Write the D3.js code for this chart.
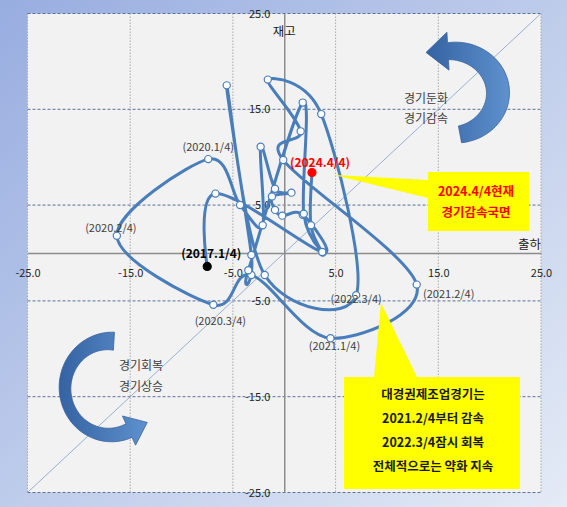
<html>
<script src='https://d3js.org/d3.v7.min.js'></script>
<style>
body { margin: 0; }
text { font-family: "Noto Sans CJK KR", "Noto Sans", sans-serif; }
</style>
<body>
<svg width="567" height="507" class="chart"></svg>
<script>
// quarters, shipment growth (x) and inventory growth (y)
var quarters = ["2017.1/4","2017.2/4","2017.3/4","2017.4/4",
                "2018.1/4","2018.2/4","2018.3/4","2018.4/4",
                "2019.1/4","2019.2/4","2019.3/4","2019.4/4",
                "2020.1/4","2020.2/4","2020.3/4","2020.4/4",
                "2021.1/4","2021.2/4","2021.3/4","2021.4/4",
                "2022.1/4","2022.2/4","2022.3/4","2022.4/4",
                "2023.1/4","2023.2/4","2023.3/4","2023.4/4",
                "2024.1/4","2024.2/4","2024.3/4","2024.4/4"];
var shipment = [-7.5,-6.7,3.75,1.8, -0.2,-0.9,-1.2,0.7, -0.9,-2.3,-2.1,-4.3,
                -7.4,-16.3,-6.9,-3.2, 4.5,12.9,-0.1,1.6, -1.6,3.6,7.0,-1.9,
                -5.6,-3.2,-3.5,1.8, 1.9,3.7,2.6,2.7];
var inventory = [-1.4,6.2,0.05,4.0, 3.9,4.5,5.9,6.3, 6.7,11.1,2.9,5.0,
                 9.8,1.8,-5.4,-2.3, -8.9,-3.3,9.7,12.7, 18.1,14.5,-4.4,-2.3,
                 17.5,-0.2,-1.8,15.7, 4.1,0.1,2.9,8.4];
var tickValues = [-25,-15,-5,5,15,25];
var labelled = ["2017.1/4","2020.1/4","2020.2/4","2020.3/4","2021.1/4","2021.2/4","2022.3/4","2024.4/4"];
var xTitle = "출하", yTitle = "재고";

// label placement (offset from the point) and look
var labelStyle = {
  "2017.1/4": {dx: 4, dy: -13, color: "#000", weight: "bold", size: 12},
  "2020.1/4": {dx: 0, dy: -12, color: "#404040", weight: "normal", size: 11},
  "2020.2/4": {dx: -6, dy: -8, color: "#404040", weight: "normal", size: 11},
  "2020.3/4": {dx: 7, dy: 16, color: "#404040", weight: "normal", size: 11},
  "2021.1/4": {dx: 4, dy: 8, color: "#404040", weight: "normal", size: 11},
  "2021.2/4": {dx: 32, dy: 10, color: "#404040", weight: "normal", size: 11},
  "2022.3/4": {dx: 0, dy: 4, color: "#404040", weight: "normal", size: 11},
  "2024.4/4": {dx: 8, dy: -10, color: "#ff0000", weight: "bold", size: 12}
};

var svg = d3.select(".chart");
var defs = svg.append("defs");

var bg = defs.append("linearGradient").attr("id", "bg")
  .attr("x1", 0).attr("y1", 0).attr("x2", 1).attr("y2", 1);
bg.append("stop").attr("offset", "0%").attr("stop-color", "#98ade0");
bg.append("stop").attr("offset", "100%").attr("stop-color", "#e4ebf6");

var ag = defs.append("linearGradient").attr("id", "arrowfill")
  .attr("x1", 0).attr("y1", 0).attr("x2", 1).attr("y2", 0);
ag.append("stop").attr("offset", "0%").attr("stop-color", "#3462a2");
ag.append("stop").attr("offset", "100%").attr("stop-color", "#5f91ce");

svg.append("rect").attr("width", 567).attr("height", 507).attr("fill", "url(#bg)");

var x = d3.scaleLinear().domain([-25, 25]).range([27.5, 541]);
var y = d3.scaleLinear().domain([-25, 25]).range([492.5, 13.5]);

svg.append("rect")
  .attr("x", x(-25)).attr("y", y(25))
  .attr("width", x(25) - x(-25)).attr("height", y(-25) - y(25))
  .attr("fill", "#f2f2f2");

// grid
svg.append("g").selectAll("line").data(tickValues).enter().append("line")
  .attr("x1", function(d) { return x(d); }).attr("x2", function(d) { return x(d); })
  .attr("y1", y(25)).attr("y2", y(-25))
  .attr("stroke", "#a9a9a9").attr("stroke-dasharray", "1.5,1.5");
svg.append("g").selectAll("line").data(tickValues).enter().append("line")
  .attr("y1", function(d) { return y(d); }).attr("y2", function(d) { return y(d); })
  .attr("x1", x(-25)).attr("x2", x(25))
  .attr("stroke", "#5d7196").attr("stroke-dasharray", "3,2");

// diagonal
svg.append("line")
  .attr("x1", x(-25)).attr("y1", y(-25)).attr("x2", x(25)).attr("y2", y(25))
  .attr("stroke", "#98afd4").attr("stroke-width", 1);

// axes crossing at zero
var fmt = function(d) { return d.toFixed(1); };
var xAxis = svg.append("g")
  .attr("transform", "translate(0," + y(0) + ")")
  .call(d3.axisBottom(x).tickValues(tickValues).tickFormat(fmt).tickSize(0).tickPadding(16));
var yAxis = svg.append("g")
  .attr("transform", "translate(" + x(0) + ",0)")
  .call(d3.axisLeft(y).tickValues(tickValues).tickFormat(fmt).tickSize(0).tickPadding(14));
[xAxis, yAxis].forEach(function(g) {
  g.select(".domain").attr("stroke", "#8c8c8c").attr("stroke-width", 1.5);
  g.selectAll("text").attr("font-size", 11).attr("fill", "#262626")
    .attr("font-family", '"Noto Sans CJK KR", sans-serif');
});

svg.append("text").attr("x", x(0)).attr("y", 36).attr("text-anchor", "middle")
  .attr("font-size", 12.5).attr("fill", "#1a1a1a").text(yTitle);
svg.append("text").attr("x", x(25)).attr("y", 249).attr("text-anchor", "end")
  .attr("font-size", 12.5).attr("fill", "#1a1a1a").text(xTitle);

// the path
var pts = quarters.map(function(q, i) { return {q: q, s: shipment[i], v: inventory[i]}; });
var line = d3.line()
  .x(function(d) { return x(d.s); })
  .y(function(d) { return y(d.v); })
  .curve(d3.curveCardinal.tension(0));
svg.append("path").datum(pts).attr("d", line)
  .attr("fill", "none").attr("stroke", "#4a7ebb").attr("stroke-width", 3)
  .attr("stroke-linejoin", "round");

var last = pts.length - 1;
svg.append("g").selectAll("circle").data(pts).enter().append("circle")
  .attr("cx", function(d) { return x(d.s); })
  .attr("cy", function(d) { return y(d.v); })
  .attr("r", function(d, i) { return (i == 0 || i == last) ? 4 : 3.6; })
  .attr("fill", function(d, i) { return i == 0 ? "#000" : (i == last ? "#ff0000" : "#fff"); })
  .attr("stroke", function(d, i) { return i == 0 ? "#000" : (i == last ? "#ff0000" : "#4a7ebb"); })
  .attr("stroke-width", 1.2);

svg.append("g").selectAll("text")
  .data(pts.filter(function(d) { return labelled.indexOf(d.q) >= 0; }))
  .enter().append("text")
  .attr("x", function(d) { return x(d.s) + labelStyle[d.q].dx; })
  .attr("y", function(d) { return y(d.v) + labelStyle[d.q].dy; })
  .attr("dy", "0.35em").attr("text-anchor", "middle")
  .attr("font-size", function(d) { return labelStyle[d.q].size; })
  .attr("font-weight", function(d) { return labelStyle[d.q].weight; })
  .attr("fill", function(d) { return labelStyle[d.q].color; })
  .text(function(d) { return "(" + d.q + ")"; });

// curved arrows
function crescent(cx, cy, rx, ry, a0, a1, wFn, headLen, headHalf) {
  var n = 60, c = [];
  for (var i = 0; i <= n; i++) {
    var t = i / n, a = (a0 + (a1 - a0) * t) * Math.PI / 180;
    c.push({t: t, x: cx + rx * Math.cos(a), y: cy + ry * Math.sin(a)});
  }
  var L = [], R = [];
  c.forEach(function(p, i) {
    var q = c[Math.min(i + 1, n)], r = c[Math.max(i - 1, 0)];
    var dx = q.x - r.x, dy = q.y - r.y, len = Math.hypot(dx, dy);
    dx /= len; dy /= len; p.dx = dx; p.dy = dy;
    var w = wFn(p.t) / 2;
    L.push([p.x - dy * w, p.y + dx * w]);
    R.push([p.x + dy * w, p.y - dx * w]);
  });
  var e = c[n];
  var tip = [e.x + e.dx * headLen, e.y + e.dy * headLen];
  var h1 = [e.x - e.dy * headHalf, e.y + e.dx * headHalf];
  var h2 = [e.x + e.dy * headHalf, e.y - e.dx * headHalf];
  return L.concat([h1, tip, h2]).concat(R.reverse());
}
var poly = d3.line().curve(d3.curveLinearClosed);
svg.append("path")
  .attr("d", poly(crescent(452, 93, 46, 42, 80, -95,
      function(t) { return 17 + 6 * Math.sin(Math.PI * t); }, 22, 19)))
  .attr("fill", "url(#arrowfill)").attr("stroke", "#3a659e").attr("stroke-width", 0.8);
svg.append("path")
  .attr("d", poly(crescent(110, 388, 45, 47, -85, -295,
      function(t) { return 18 * (1 - t) + 15 * t - 5 * Math.sin(Math.PI * t); }, 20, 16)))
  .attr("fill", "url(#arrowfill)").attr("stroke", "#3a659e").attr("stroke-width", 0.8);

// phase texts
function lines(xc, y0, step, arr, size, weight, color) {
  arr.forEach(function(s, i) {
    svg.append("text").attr("x", xc).attr("y", y0 + i * step)
      .attr("dy", "0.35em").attr("text-anchor", "middle")
      .attr("font-size", size).attr("font-weight", weight).attr("fill", color).text(s);
  });
}
lines(426, 99, 20, ["경기둔화", "경기감속"], 12, "normal", "#404040");
lines(141, 366, 21, ["경기회복", "경기상승"], 12, "normal", "#404040");

// yellow callouts
svg.append("path").attr("d", "M334,175L428,180L428,198Z").attr("fill", "#ffff00");
svg.append("rect").attr("x", 428).attr("y", 172).attr("width", 101).attr("height", 59).attr("fill", "#ffff00");
lines(476, 192, 21, ["2024.4/4현재", "경기감속국면"], 12.5, "bold", "#ff0000");

svg.append("path").attr("d", "M381,303L374,377L417,377Z").attr("fill", "#ffff00");
svg.append("rect").attr("x", 344).attr("y", 377).attr("width", 176).attr("height", 112).attr("fill", "#ffff00");
lines(433, 395, 24, ["대경권제조업경기는", "2021.2/4부터 감속", "2022.3/4잠시 회복", "전체적으로는 약화 지속"], 12.5, "bold", "#1a1a1a");
</script>
</body>
</html>
